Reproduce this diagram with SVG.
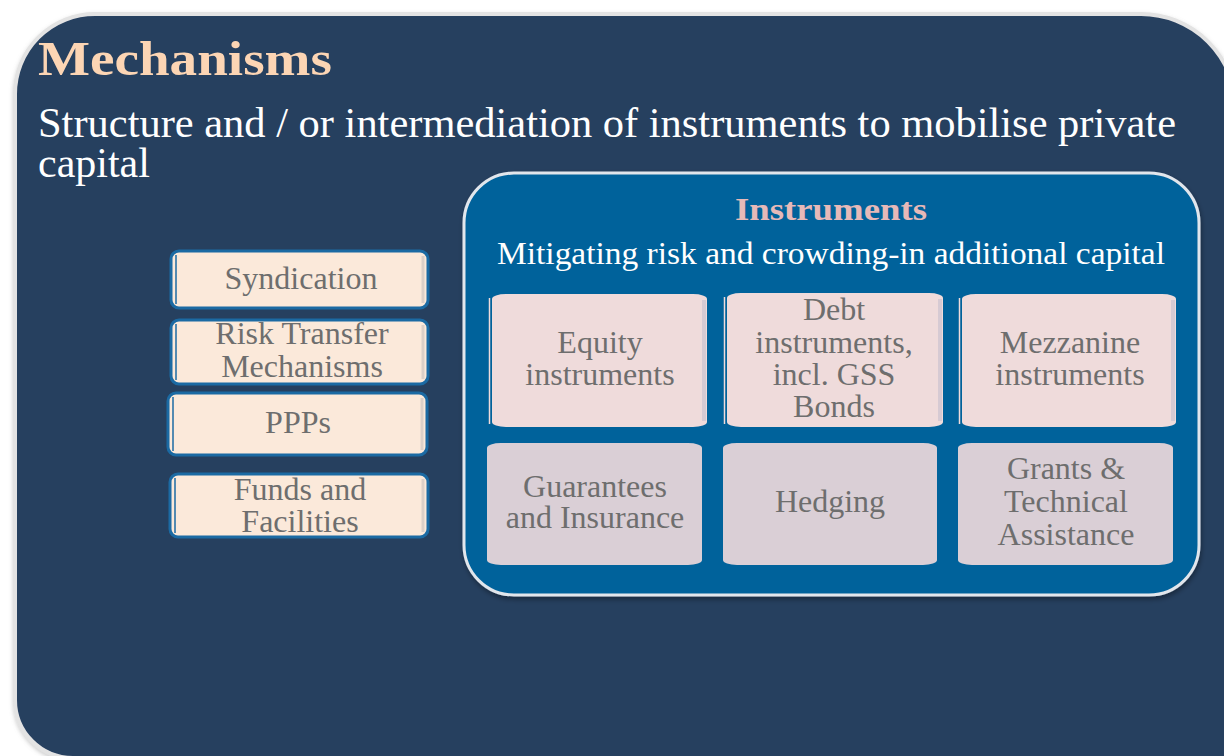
<svg xmlns="http://www.w3.org/2000/svg" width="1224" height="756" viewBox="0 0 1224 756">
  <defs>
    <filter id="shadow" x="-5%" y="-5%" width="110%" height="115%">
      <feDropShadow dx="1" dy="3" stdDeviation="2.5" flood-color="#000000" flood-opacity="0.35"/>
    </filter>
    <filter id="shadowLight" x="-5%" y="-5%" width="110%" height="115%">
      <feDropShadow dx="0" dy="2" stdDeviation="2" flood-color="#7f7f7f" flood-opacity="0.4"/>
    </filter>
  </defs>
  <style>
    .serif { font-family: "Liberation Serif", "Times New Roman", serif; }
    .title { font-size: 49px; font-weight: bold; fill: #fcd5b4; }
    .sub { font-size: 42px; fill: #ffffff; }
    .ititle { font-size: 31px; font-weight: bold; fill: #e6b9b8; text-anchor: middle; }
    .isub { font-size: 32px; fill: #ffffff; }
    .lbl { font-size: 32px; fill: #6e6e6e; text-anchor: middle; }
    .mech { fill: #fbe9da; stroke: #1b6aa3; stroke-width: 3; }
    .mechline { stroke: #1b6aa3; stroke-width: 1.5; fill: none; }
    .mechshade { stroke: #dcd0c8; stroke-width: 3; fill: none; }
    .inst1 { fill: #efdbdb; }
    .inst2 { fill: #dacfd6; }
    .ishade { stroke: #d6cad3; stroke-width: 4; fill: none; }
    .iline { stroke: #efdbdb; stroke-width: 1.5; fill: none; }
  </style>

  <rect width="1224" height="756" fill="#ffffff"/>

  <g id="mechanisms">
    <path d="M15,94 A80,80 0 0 1 95,14 L1141,14 A95,95 0 0 1 1236,109 L1236,790 L73,790 L73,758 A58,58 0 0 1 15,700 Z" fill="#263f5f" stroke="#e3e3e3" stroke-width="4" filter="url(#shadowLight)"/>
    <text class="serif title" x="38" y="75" textLength="294" lengthAdjust="spacingAndGlyphs">Mechanisms</text>
    <text class="serif sub" x="38" y="137" textLength="1138" lengthAdjust="spacingAndGlyphs">Structure and / or intermediation of instruments to mobilise private</text>
    <text class="serif sub" x="38" y="177">capital</text>
  </g>

  <g id="syndication">
    <rect class="mech" x="171" y="251" width="257" height="57" rx="8"/>
    <line class="mechline" x1="176" y1="255" x2="176" y2="304"/>
    <line class="mechshade" x1="423" y1="256" x2="423" y2="303"/>
    <text class="serif lbl" x="301" y="289">Syndication</text>
  </g>

  <g id="risk-transfer">
    <rect class="mech" x="171" y="320" width="257" height="64" rx="8"/>
    <line class="mechline" x1="176" y1="324" x2="176" y2="380"/>
    <line class="mechshade" x1="423" y1="325" x2="423" y2="379"/>
    <text class="serif lbl" x="302" y="344">Risk Transfer</text>
    <text class="serif lbl" x="302" y="377">Mechanisms</text>
  </g>

  <g id="ppps">
    <rect class="mech" x="168" y="393" width="259" height="62" rx="8"/>
    <line class="mechline" x1="173" y1="397" x2="173" y2="451"/>
    <line class="mechshade" x1="422" y1="398" x2="422" y2="450"/>
    <text class="serif lbl" x="298" y="433">PPPs</text>
  </g>

  <g id="funds">
    <rect class="mech" x="170" y="474" width="258" height="63" rx="8"/>
    <line class="mechline" x1="175" y1="478" x2="175" y2="533"/>
    <line class="mechshade" x1="423" y1="479" x2="423" y2="532"/>
    <text class="serif lbl" x="300" y="500">Funds and</text>
    <text class="serif lbl" x="300" y="532">Facilities</text>
  </g>

  <g id="instruments">
    <rect x="464" y="173" width="735" height="422" rx="50" fill="#02629b" stroke="#e1e6ec" stroke-width="3" filter="url(#shadow)"/>
    <text class="serif ititle" x="831" y="220" textLength="192" lengthAdjust="spacingAndGlyphs">Instruments</text>
    <text class="serif isub" x="497" y="264" textLength="668" lengthAdjust="spacingAndGlyphs">Mitigating risk and crowding-in additional capital</text>
  </g>

  <g id="equity">
    <line class="iline" x1="489.5" y1="298" x2="489.5" y2="424"/>
    <rect class="inst1" x="492" y="294" width="215" height="133" rx="14" ry="5"/>
    <line class="ishade" x1="704" y1="300" x2="704" y2="421"/>
    <text class="serif lbl" x="600" y="353">Equity</text>
    <text class="serif lbl" x="600" y="385">instruments</text>
  </g>

  <g id="debt">
    <line class="iline" x1="724.5" y1="297" x2="724.5" y2="424"/>
    <rect class="inst1" x="727" y="293" width="216" height="134" rx="14" ry="5"/>
    <line class="ishade" x1="940" y1="299" x2="940" y2="421"/>
    <text class="serif lbl" x="834" y="320">Debt</text>
    <text class="serif lbl" x="834" y="353">instruments,</text>
    <text class="serif lbl" x="834" y="385">incl. GSS</text>
    <text class="serif lbl" x="834" y="417">Bonds</text>
  </g>

  <g id="mezzanine">
    <line class="iline" x1="959.5" y1="298" x2="959.5" y2="424"/>
    <rect class="inst1" x="962" y="294" width="214" height="133" rx="14" ry="5"/>
    <line class="ishade" x1="1173" y1="300" x2="1173" y2="421"/>
    <text class="serif lbl" x="1070" y="353">Mezzanine</text>
    <text class="serif lbl" x="1070" y="385">instruments</text>
  </g>

  <g id="guarantees">
    <rect class="inst2" x="487" y="443" width="215" height="122" rx="14" ry="5"/>
    <text class="serif lbl" x="595" y="497">Guarantees</text>
    <text class="serif lbl" x="595" y="528">and Insurance</text>
  </g>

  <g id="hedging">
    <rect class="inst2" x="723" y="443" width="214" height="122" rx="14" ry="5"/>
    <text class="serif lbl" x="830" y="512">Hedging</text>
  </g>

  <g id="grants">
    <rect class="inst2" x="958" y="443" width="215" height="122" rx="14" ry="5"/>
    <text class="serif lbl" x="1066" y="479">Grants &amp;</text>
    <text class="serif lbl" x="1066" y="512">Technical</text>
    <text class="serif lbl" x="1066" y="545">Assistance</text>
  </g>

  <g id="connectors"></g>
</svg>
